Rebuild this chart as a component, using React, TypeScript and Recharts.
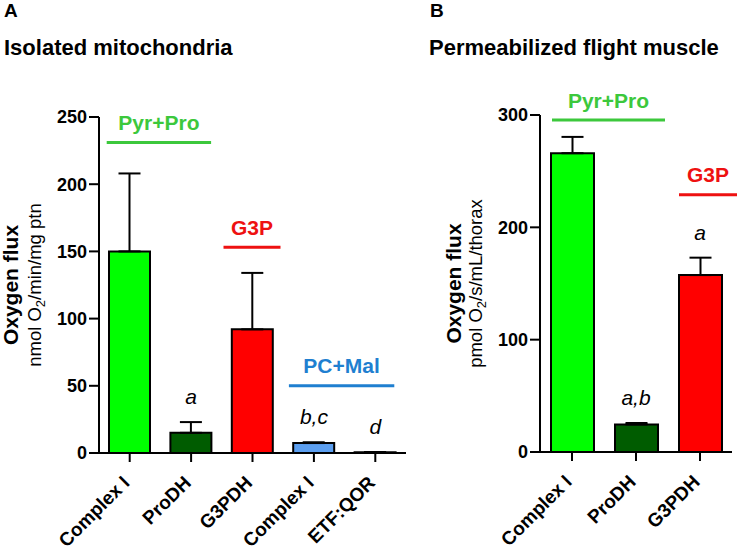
import { ComposedChart, Bar, Cell, Line, XAxis, YAxis, ErrorBar, LabelList, ReferenceLine } from 'recharts'

const FONT = 'Liberation Sans, Arial, Helvetica, sans-serif'

// panel A - isolated mitochondria
const keysA = ['ci_pp', 'prodh', 'g3pdh', 'ci_pc', 'etf']
const labelsA = ['Complex I', 'ProDH', 'G3PDH', 'Complex I', 'ETF:QOR']
const meansA = [150, 15, 92, 7.4, 0.5]
const errorsA = [58, 8, 42, 0.6, 0.2]
const lettersA = ['', 'a', '', 'b,c', 'd']
const ticksA = [0, 50, 100, 150, 200, 250]

// panel B - permeabilized flight muscle
const keysB = ['ci_pp', 'prodh', 'g3pdh']
const labelsB = ['Complex I', 'ProDH', 'G3PDH']
const meansB = [266, 24.5, 157.5]
const errorsB = [14.5, 1.3, 15.5]
const lettersB = ['', 'a,b', 'a']
const ticksB = [0, 100, 200, 300]

// substrate groups drawn over the bars
const groupsA = [
  { text: 'Pyr+Pro', from: 'ci_pp', to: 'prodh', y: 231 },
  { text: 'G3P', from: 'g3pdh', to: 'g3pdh', y: 153 },
  { text: 'PC+Mal', from: 'ci_pc', to: 'etf', y: 50 },
]
const groupsB = [
  { text: 'Pyr+Pro', from: 'ci_pp', to: 'prodh', y: 295.5 },
  { text: 'G3P', from: 'g3pdh', to: 'g3pdh', y: 229 },
]

const barFill: Record<string, string> = {
  ci_pp: '#00ff00',
  prodh: '#005c00',
  g3pdh: '#ff0000',
  ci_pc: '#5c9ff0',
  etf: '#5c9ff0',
}
const groupColour: Record<string, string> = {
  'Pyr+Pro': '#3cc83c',
  G3P: '#ee1111',
  'PC+Mal': '#1f7fd0',
}
// how far each group line runs past the bar centres (left, right)
const groupExtA = [[23, 20], [29, 28], [25, 19]]
const groupExtB = [[20, 29], [21, 37]]

function buildRows(keys: string[], means: number[], errors: number[], letters: string[]) {
  return keys.map((k, i) => ({
    key: k,
    mean: means[i],
    err: [0, errors[i]],
    top: means[i] + errors[i],
    sig: letters[i],
  }))
}

const dataA = buildRows(keysA, meansA, errorsA, lettersA)
const dataB = buildRows(keysB, meansB, errorsB, lettersB)

const AngleTick = (props: any) => {
  const { x, y, payload, labels } = props
  return (
    <g transform={`translate(${x + 1},${y + 20}) rotate(-45)`}>
      <text x={0} y={0} textAnchor="end" fontFamily={FONT} fontWeight="bold" fontSize={19} fill="#000">
        {labels[payload.index]}
      </text>
    </g>
  )
}

const Letter = (props: any) => {
  const { x, y, value } = props
  if (!value) return null
  return (
    <text x={x} y={y - 18} textAnchor="middle" fontFamily={FONT} fontStyle="italic" fontSize={21} fill="#000">
      {value}
    </text>
  )
}

const GroupMark = (props: any) => {
  const { x1, x2, y1, ext, text } = props
  const a = x1 - ext[0]
  const b = x2 + ext[1]
  const c = groupColour[text]
  return (
    <g>
      <line x1={a} x2={b} y1={y1} y2={y1} stroke={c} strokeWidth={3} />
      <text x={(a + b) / 2} y={y1 - 12.5} textAnchor="middle" fontFamily={FONT} fontWeight="bold" fontSize={21} fill={c}>
        {text}
      </text>
    </g>
  )
}

const AxisTitle = (props: any) => {
  const { viewBox, unit, dx1, dx2 } = props
  const cx = viewBox.x
  const cy = viewBox.y + viewBox.height / 2
  return (
    <g fontFamily={FONT} fill="#000">
      <text
        x={cx + dx1}
        y={cy}
        textAnchor="middle"
        fontWeight="bold"
        fontSize={21}
        transform={`rotate(-90, ${cx + dx1}, ${cy})`}
      >
        Oxygen flux
      </text>
      <text x={cx + dx2} y={cy} textAnchor="middle" fontSize={18.5} transform={`rotate(-90, ${cx + dx2}, ${cy})`}>
        {unit[0]}
        <tspan fontSize={13} dy={4}>2</tspan>
        <tspan dy={-4}>{unit[1]}</tspan>
      </text>
    </g>
  )
}

function Panel(props: any) {
  const { data, labels, ticks, max, groups, exts, unit, width, margin, yWidth, barSize, dx1, dx2 } = props
  return (
    <ComposedChart width={width} height={549} data={data} margin={margin} style={{ overflow: 'visible' }}>
      <XAxis
        dataKey="key"
        height={60}
        interval={0}
        tickSize={9}
        tickMargin={2}
        axisLine={{ stroke: '#000', strokeWidth: 2 }}
        tickLine={{ stroke: '#000', strokeWidth: 2 }}
        tick={<AngleTick labels={labels} />}
      />
      <YAxis
        width={yWidth}
        domain={[0, max]}
        ticks={ticks}
        interval={0}
        tickSize={10}
        tickMargin={2}
        axisLine={{ stroke: '#000', strokeWidth: 2 }}
        tickLine={{ stroke: '#000', strokeWidth: 2 }}
        tick={{ fill: '#000', fontSize: 18, fontWeight: 'bold', fontFamily: FONT }}
        label={{ content: (p: any) => <AxisTitle {...p} unit={unit} dx1={dx1} dx2={dx2} /> }}
      />
      <Bar dataKey="mean" barSize={barSize} stroke="#000" strokeWidth={2} isAnimationActive={false}>
        {data.map((d: any) => (
          <Cell key={d.key} fill={barFill[d.key]} />
        ))}
        <ErrorBar dataKey="err" direction="y" width={11} stroke="#000" strokeWidth={2} />
      </Bar>
      <Line dataKey="top" stroke="none" dot={false} activeDot={false} isAnimationActive={false} legendType="none">
        <LabelList dataKey="sig" content={<Letter />} />
      </Line>
      {groups.map((g: any, i: number) => (
        <ReferenceLine
          key={g.text}
          segment={[
            { x: g.from, y: g.y },
            { x: g.to, y: g.y },
          ]}
          shape={(p: any) => <GroupMark {...p} ext={exts[i]} text={g.text} />}
        />
      ))}
    </ComposedChart>
  )
}

export default function App() {
  return (
    <div style={{ position: 'absolute', left: 0, top: 0, width: 737, height: 549, background: '#fff', overflow: 'hidden' }}>
      <div style={{ position: 'absolute', left: 0, top: 0 }}>
        <Panel
          data={dataA}
          labels={labelsA}
          ticks={ticksA}
          max={250}
          groups={groupsA}
          exts={groupExtA}
          unit={['nmol O', '/min/mg ptn']}
          width={420}
          yWidth={99}
          barSize={41}
          dx1={18}
          dx2={41}
          margin={{ top: 117, right: 14, bottom: 36, left: 0 }}
        />
      </div>
      <div style={{ position: 'absolute', left: 440, top: 0 }}>
        <Panel
          data={dataB}
          labels={labelsB}
          ticks={ticksB}
          max={300}
          groups={groupsB}
          exts={groupExtB}
          unit={['pmol O', '/s/mL/thorax']}
          width={297}
          yWidth={100}
          barSize={43}
          dx1={21}
          dx2={42}
          margin={{ top: 115, right: 5, bottom: 37, left: 0 }}
        />
      </div>
      <svg width={737} height={60} style={{ position: 'absolute', left: 0, top: 0 }} fontFamily={FONT} fontWeight="bold">
        <text x={4} y={17} fontSize={19}>A</text>
        <text x={4} y={55} fontSize={22}>Isolated mitochondria</text>
        <text x={430} y={17} fontSize={19}>B</text>
        <text x={429} y={55} fontSize={22}>Permeabilized flight muscle</text>
      </svg>
    </div>
  )
}
